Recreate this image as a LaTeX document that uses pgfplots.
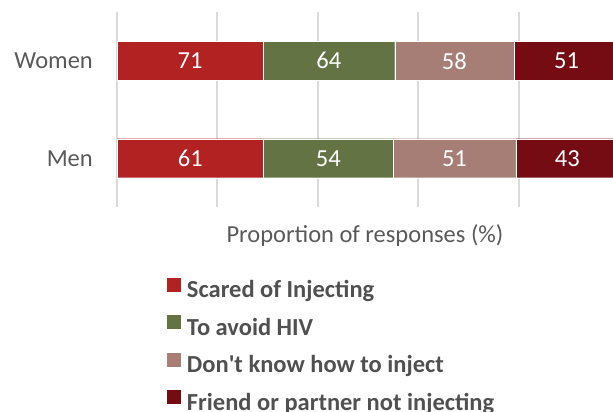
\documentclass[border=0pt]{standalone}
\usepackage{fontspec}
\setmainfont{Carlito}
\usepackage{pgfplots}
\usepackage{pgfplotstable}
\pgfplotsset{compat=1.18}

\definecolor{cScared}{RGB}{178,34,34}
\definecolor{cAvoid}{RGB}{99,115,68}
\definecolor{cKnow}{RGB}{166,126,117}
\definecolor{cFriend}{RGB}{117,12,20}
\definecolor{txtgray}{RGB}{89,89,89}
\definecolor{leggray}{RGB}{80,80,80}
\definecolor{gridgray}{RGB}{217,217,217}

% y: 0 = Men, 1 = Women; pct = share of the group's responses, n = count on the bar
\pgfplotstableread{
y pct n
0 29.187 61
1 29.098 71
}\scared
\pgfplotstableread{
y pct n
0 25.837 54
1 26.230 64
}\avoid
\pgfplotstableread{
y pct n
0 24.402 51
1 23.770 58
}\dontknow
\pgfplotstableread{
y pct n
0 20.574 43
1 20.902 51
}\friend

\begin{document}
\begin{tikzpicture}[font=\fontsize{24.5}{29}\selectfont]
\useasboundingbox (0,0) rectangle (613pt,412pt);
\clip (0,0) rectangle (613pt,412pt);
\begin{axis}[
  at={(117pt,205pt)}, anchor=south west,
  scale only axis, width=502pt, height=195pt,
  xbar stacked, bar width=39pt,
  xmin=0, xmax=100, ymin=-0.5, ymax=1.5,
  xtick={0,20,...,80}, xticklabels={},
  ytick={0,1}, yticklabels={Men,Women},
  xmajorgrids, grid style={gridgray, line width=2pt},
  axis line style={draw=none}, major tick length=0pt,
  yticklabel style={inner sep=0pt, xshift=-24pt, anchor=east, text=txtgray},
  xlabel={Proportion of responses (\%)},
  xlabel style={at={(axis description cs:0.494,0)}, anchor=base, yshift=-36pt, text=txtgray},
  nodes near coords, point meta=explicit symbolic,
  every node near coord/.append style={anchor=center, text=white, inner sep=0pt},
  legend cell align=left,
  legend style={
    at={(axis description cs:0.0996,-0.362)}, anchor=north west,
    draw=none, fill=none, inner sep=0pt, outer sep=0pt,
    row sep=12.5pt, column sep=6pt,
    nodes={inner sep=0pt, text height=17pt, text depth=5pt, text=leggray,
      font=\bfseries\fontsize{24.5}{29}\selectfont},
  },
  legend image code/.code={\draw[#1, draw=none] (0pt,0pt) rectangle (14pt,14pt);},
]
\addplot[fill=cScared, draw=white, line width=0.4pt] table[x=pct, y=y, meta=n] {\scared};
\addlegendentry{Scared of Injecting}
\addplot[fill=cAvoid, draw=white, line width=0.4pt] table[x=pct, y=y, meta=n] {\avoid};
\addlegendentry{To avoid HIV}
\addplot[fill=cKnow, draw=white, line width=0.4pt] table[x=pct, y=y, meta=n] {\dontknow};
\addlegendentry{Don\textquotesingle t know how to inject}
\addplot[fill=cFriend, draw=white, line width=0.4pt] table[x=pct, y=y, meta=n] {\friend};
\addlegendentry{Friend or partner not injecting}
\end{axis}
\end{tikzpicture}
\end{document}
